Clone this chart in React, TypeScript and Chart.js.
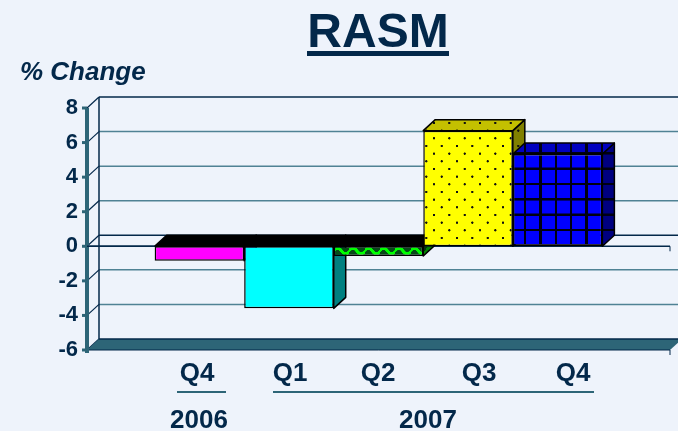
import React, { useEffect, useRef } from "react";
import { Chart, registerables } from "chart.js";

Chart.register(...registerables);

const chartLabels = ["RASM"];
const quarters = ["Q4", "Q1", "Q2", "Q3", "Q4"];
const years = ["2006", "2007"];
const rasmChange = [-0.83, -3.59, -0.56, 6.69, 5.34];
const yTicks = [8, 6, 4, 2, 0, -2, -4, -6];

const W = 678, H = 431;
const INK = "#03284A";
const BG = "#EEF3FB";
const TEAL = "#2D6577";
const GRID = "#4F8294";
const DX = 12, DY = -11;

type Faces = { front: any; top: any; side: any };

function tile(draw: (c: CanvasRenderingContext2D) => void, size: number) {
  const t = document.createElement("canvas");
  t.width = size; t.height = size;
  draw(t.getContext("2d")!);
  return t;
}
function patternOf(canvasTile: HTMLCanvasElement, scale: number, ox: number, oy: number) {
  const c = document.createElement("canvas").getContext("2d")!;
  const p = c.createPattern(canvasTile, "repeat")!;
  p.setTransform(new DOMMatrix().translate(ox, oy).scale(scale));
  return p;
}
function dots(bg: string) {
  const t = tile((c) => {
    c.fillStyle = bg; c.fillRect(0, 0, 46, 46);
    c.fillStyle = "#111";
    [[11.5, 11.5], [34.5, 34.5]].forEach(([x, y]) => {
      c.beginPath(); c.arc(x, y, 3.4, 0, Math.PI * 2); c.fill();
    });
  }, 46);
  return patternOf(t, 1 / 3, 434 - 11.5 / 3, 138.3 - 11.5 / 3);
}
function mesh(bg: string) {
  const t = tile((c) => {
    c.fillStyle = bg; c.fillRect(0, 0, 46, 46);
    c.fillStyle = "#000012";
    c.fillRect(0, 0, 7, 46); c.fillRect(0, 0, 46, 7);
  }, 46);
  return patternOf(t, 1 / 3, 524, 167.5);
}
function wave(bg: string, crest: string) {
  const t = tile((c) => {
    c.fillStyle = bg; c.fillRect(0, 0, 46, 46);
    c.strokeStyle = crest; c.lineWidth = 9;
    c.beginPath();
    c.moveTo(-2, 18); c.quadraticCurveTo(11.5, 2, 23, 18);
    c.quadraticCurveTo(34.5, 34, 48, 18);
    c.stroke();
  }, 46);
  return patternOf(t, 1 / 3, 334, 245);
}

function buildFaces(): Faces[] {
  return [
    { front: "#FF00FF", top: "#000000", side: "#800080" },
    { front: "#00FFFF", top: "#000000", side: "#008080" },
    { front: wave("#064A18", "#00FF00"), top: "#000000", side: wave("#03300F", "#008000") },
    { front: dots("#FFFF00"), top: dots("#C4C000"), side: dots("#808000") },
    { front: mesh("#0000FF"), top: mesh("#0000C0"), side: mesh("#000080") },
  ];
}

function poly(ctx: CanvasRenderingContext2D, pts: number[][], fill: any, stroke?: string, lw = 1.5) {
  ctx.beginPath();
  pts.forEach(([x, y], i) => (i ? ctx.lineTo(x, y) : ctx.moveTo(x, y)));
  ctx.closePath();
  if (fill) { ctx.fillStyle = fill; ctx.fill(); }
  if (stroke) { ctx.lineJoin = "round"; ctx.strokeStyle = stroke; ctx.lineWidth = lw; ctx.stroke(); }
}
function seg(ctx: CanvasRenderingContext2D, x1: number, y1: number, x2: number, y2: number, color: string, lw: number) {
  ctx.beginPath(); ctx.moveTo(x1, y1); ctx.lineTo(x2, y2);
  ctx.strokeStyle = color; ctx.lineWidth = lw; ctx.stroke();
}

function stagePlugin(faces: Faces[]) {
  return {
    id: "stage3d",
    beforeDatasetsDraw(chart: any) {
      const { ctx, chartArea: a, scales } = chart;
      const y = scales.y;
      const zero = y.getPixelForValue(0);
      ctx.save();
      // back-wall grid and side-wall diagonals
      yTicks.forEach((v) => {
        const py = y.getPixelForValue(v);
        if (v !== 8 && v !== 0 && v !== -6) seg(ctx, a.left + DX, py + DY, W + 10, py + DY, GRID, 1.5);
        seg(ctx, a.left, py, a.left + DX, py + DY, INK, 1.2);
      });
      seg(ctx, a.left + DX, a.top + DY, W + 10, a.top + DY, INK, 1.5);
      seg(ctx, a.left + DX, a.top + DY, a.left + DX, a.bottom + DY, INK, 1.5);
      // floor
      poly(ctx, [[a.left, a.bottom], [a.left + DX, a.bottom + DY], [a.right + DX, a.bottom + DY], [a.right, a.bottom]], TEAL);
      seg(ctx, a.left + DX, a.bottom + DY, W + 10, a.bottom + DY, INK, 1.5);
      seg(ctx, a.left, a.bottom, a.right, a.bottom, INK, 1);
      seg(ctx, a.right, a.bottom, a.right, a.bottom + 5, INK, 1);
      // zero plane
      seg(ctx, a.left + DX, zero + DY, W + 10, zero + DY, INK, 1.5);
      seg(ctx, a.left, zero, a.right, zero, INK, 1.5);
      seg(ctx, a.right, zero, a.right, zero + 5, INK, 1);
      // bar side and top faces
      rasmChange.forEach((_, i) => {
        const b = chart.getDatasetMeta(i).data[0];
        const l = b.x - b.width / 2, r = b.x + b.width / 2;
        const t = Math.min(b.y, b.base), bt = Math.max(b.y, b.base);
        poly(ctx, [[r, t], [r + DX, t + DY], [r + DX, bt + DY], [r, bt]], faces[i].side, "#000", 1.5);
        poly(ctx, [[l, t], [l + DX, t + DY], [r + DX, t + DY], [r, t]], faces[i].top, "#000", 1.5);
      });
      ctx.restore();
    },
    afterDatasetsDraw(chart: any) {
      const { ctx, chartArea: a, scales } = chart;
      ctx.save();
      seg(ctx, a.left, a.top, a.left, a.bottom + 3, TEAL, 4);
      yTicks.forEach((v) => {
        const py = scales.y.getPixelForValue(v);
        seg(ctx, a.left - 5, py, a.left, py, TEAL, 3);
      });
      const zero = scales.y.getPixelForValue(0);
      const first = chart.getDatasetMeta(0).data[0];
      seg(ctx, a.left, zero, first.x - first.width / 2, zero, INK, 1.5);
      ctx.restore();
    },
  };
}

function Label(p: { text: string; cx?: number; left?: number; base: number; size: number; italic?: boolean }) {
  const style: React.CSSProperties = {
    position: "absolute",
    top: p.base - 0.8465 * p.size,
    lineHeight: 1,
    fontFamily: '"Liberation Sans", Arial, sans-serif',
    fontWeight: 700,
    fontStyle: p.italic ? "italic" : "normal",
    fontSize: p.size,
    color: INK,
    whiteSpace: "nowrap",
  };
  if (p.left !== undefined) style.left = p.left;
  else { style.left = p.cx; style.transform = "translateX(-50%)"; }
  return <div style={style}>{p.text}</div>;
}
function Rule(p: { x1: number; x2: number; y: number; h: number; color?: string }) {
  return <div style={{ position: "absolute", left: p.x1, width: p.x2 - p.x1, top: p.y, height: p.h, background: p.color || INK }} />;
}

export default function App() {
  const ref = useRef<HTMLCanvasElement>(null);
  useEffect(() => {
    const faces = buildFaces();
    const chart = new Chart(ref.current!, {
      type: "bar",
      data: {
        labels: chartLabels,
        datasets: rasmChange.map((v, i) => ({
          label: `${quarters[i]} ${i === 0 ? years[0] : years[1]}`,
          data: [v],
          backgroundColor: faces[i].front,
          borderColor: "#000",
          borderWidth: 1.5,
          borderSkipped: false,
          categoryPercentage: 0.768,
          barPercentage: 1,
        })),
      } as any,
      options: {
        responsive: false,
        animation: false,
        layout: { padding: { top: 108, bottom: 81, left: 0, right: 8 } },
        plugins: { legend: { display: false }, title: { display: false }, tooltip: { enabled: false } },
        scales: {
          x: { display: false },
          y: {
            min: -6, max: 8,
            afterFit: (s: any) => { s.width = 87; },
            grid: { display: false },
            border: { display: false },
            ticks: {
              stepSize: 2,
              autoSkip: false,
              color: INK,
              padding: 1,
              font: { family: '"Liberation Sans", Arial, sans-serif', weight: "bold", size: 22 },
            },
          },
        },
      } as any,
      plugins: [stagePlugin(faces)] as any,
    });
    return () => chart.destroy();
  }, []);
  return (
    <div style={{ position: "fixed", left: 0, top: 0, width: W, height: H, background: BG, overflow: "hidden" }}>
      <canvas ref={ref} width={W} height={H} style={{ position: "absolute", left: 0, top: 0, display: "block" }} />
      <Label text="RASM" cx={378} base={48} size={48} />
      <Rule x1={307} x2={449} y={51} h={5} />
      <Label text="% Change" left={20} base={80} size={26} italic />
      <Label text={quarters[0]} cx={197} base={381} size={26} />
      <Label text={quarters[1]} cx={290} base={381} size={26} />
      <Label text={quarters[2]} cx={378} base={381} size={26} />
      <Label text={quarters[3]} cx={479} base={381} size={26} />
      <Label text={quarters[4]} cx={573} base={381} size={26} />
      <Rule x1={177} x2={226} y={391} h={2} color={TEAL} />
      <Rule x1={273} x2={594} y={391} h={2} color={TEAL} />
      <Label text={years[0]} cx={199} base={428} size={26} />
      <Label text={years[1]} cx={428} base={428} size={26} />
    </div>
  );
}
